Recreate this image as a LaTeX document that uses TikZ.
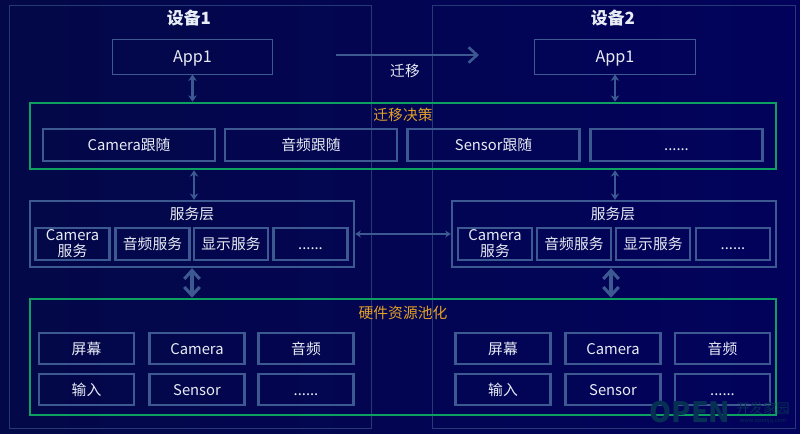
\documentclass[tikz,border=0pt]{standalone}
\usepackage{xcolor}
\usepackage{fontspec}
\setmainfont{Noto Sans CJK SC}
\usetikzlibrary{arrows.meta, positioning}
\definecolor{bgleft}{RGB}{3,8,72}
\definecolor{bgright}{RGB}{2,2,92}
\definecolor{frameblue}{RGB}{38,56,118}
\definecolor{boxblue}{RGB}{60,90,145}
\definecolor{poolgreen}{RGB}{14,160,96}
\definecolor{labelorange}{RGB}{226,160,40}
\definecolor{textwhite}{RGB}{232,236,245}
\definecolor{markteal}{RGB}{6,48,84}

\begin{document}
\begin{tikzpicture}[
        x=0.025cm, y=-0.025cm,
        device/.style={rectangle, draw=frameblue, line width=0.7pt, inner sep=0pt},
        devicetitle/.style={text=textwhite, font=\fontsize{12}{14}\selectfont\bfseries},
        appbox/.style={rectangle, draw=boxblue, line width=0.7pt, minimum width=4cm, minimum height=0.875cm, text=textwhite, text height=1em, text depth=0.2em, font=\fontsize{11.5}{13}\selectfont},
        item/.style={rectangle, draw=boxblue, line width=1.7pt, inner sep=0pt, align=center, text=textwhite, text height=1em, text depth=0.2em, font=\fontsize{10.5}{12.5}\selectfont},
        follow/.style={item, minimum width=4.3cm, minimum height=0.8cm},
        service/.style={item, minimum width=1.85cm, minimum height=0.8cm},
        twoline/.style={service, text height=, text depth=, font=\fontsize{10.5}{11.5}\selectfont},
        hardware/.style={item, minimum width=2.37cm, minimum height=0.78cm},
        layer/.style={rectangle, draw=boxblue, line width=1.7pt, inner sep=0pt},
        pool/.style={rectangle, draw=poolgreen, line width=1.8pt, inner sep=0pt},
        title/.style={text=textwhite, font=\fontsize{10.5}{12.5}\selectfont},
        pooltitle/.style={text=labelorange, font=\fontsize{10.5}{12.5}\selectfont},
        link/.style={{Stealth[length=4.5pt,width=6pt]}-{Stealth[length=4.5pt,width=6pt]}, draw=boxblue, line width=1.6pt},
        hlink/.style={{Stealth[length=4pt,width=5pt]}-{Stealth[length=4pt,width=5pt]}, draw=boxblue, line width=0.9pt},
        biglink/.style={{Straight Barb[length=6pt,width=11pt]}-{Straight Barb[length=6pt,width=11pt]}, draw=boxblue, line width=2.2pt},
        movelink/.style={-{Straight Barb[length=6pt,width=11pt]}, draw=boxblue, line width=1.9pt}
    ]
        % Background
        \shade[left color=bgleft, right color=bgright] (0,0) rectangle (800,433);

        % Devices
        \node[device, minimum width=9.03cm, minimum height=10.55cm] (deviceA) at (190.5,217) {};
        \node[device, minimum width=9.05cm, minimum height=10.55cm] (deviceB) at (614,217) {};
        \node[devicetitle] (titleA) at (189,18) {设备1};
        \node[devicetitle] (titleB) at (613,18) {设备2};

        % Apps
        \node[appbox] (appA) at (192.5,56.5) {App1};
        \node[appbox] (appB) at (615,56.5) {App1};
        \coordinate (moveA) at (336,55);
        \coordinate (moveB) at (479,55);
        \node[title] (move) at (405,71) {迁移};

        % Migration decision
        \node[pool, minimum width=18.65cm, minimum height=1.65cm] (decide) at (403,136) {};
        \node[pooltitle] (decidetitle) at (403,115) {迁移决策};
        \node[follow] (camfollow) at (129,145) {Camera跟随};
        \node[follow] (audiofollow) at (311,145) {音频跟随};
        \node[follow] (sensorfollow) at (493.5,145) {Sensor跟随};
        \node[follow] (morefollow) at (676.5,145) {......};

        % Service layers
        \node[layer, minimum width=8.1cm, minimum height=1.65cm] (layerA) at (192,234) {};
        \node[title] (layertitleA) at (192,214) {服务层};
        \node[twoline] (camA) at (72.5,244) {Camera\\服务};
        \node[service] (audioA) at (152.5,244) {音频服务};
        \node[service] (showA) at (231,244) {显示服务};
        \node[service] (moreA) at (310.5,244) {......};

        \node[layer, minimum width=8.1cm, minimum height=1.65cm] (layerB) at (614,234) {};
        \node[title] (layertitleB) at (613,214) {服务层};
        \node[twoline] (camB) at (495,244) {Camera\\服务};
        \node[service] (audioB) at (574,244) {音频服务};
        \node[service] (showB) at (653,244) {显示服务};
        \node[service] (moreB) at (733,244) {......};

        % Hardware pool
        \node[pool, minimum width=18.65cm, minimum height=2.9cm] (hwpool) at (403,357) {};
        \node[pooltitle] (hwtitle) at (403,313) {硬件资源池化};
        \node[hardware] (screenA) at (86.5,348.5) {屏幕};
        \node[hardware] (cameraA) at (197,348.5) {Camera};
        \node[hardware] (soundA) at (306,348.5) {音频};
        \node[hardware] (inputA) at (86.5,389.5) {输入};
        \node[hardware] (sensorA) at (197,389.5) {Sensor};
        \node[hardware] (otherA) at (306,389.5) {......};
        \node[hardware] (screenB) at (503,348.5) {屏幕};
        \node[hardware] (cameraB) at (613,348.5) {Camera};
        \node[hardware] (soundB) at (722.5,348.5) {音频};
        \node[hardware] (inputB) at (503,389.5) {输入};
        \node[hardware] (sensorB) at (613,389.5) {Sensor};
        \node[hardware] (otherB) at (722.5,389.5) {......};

        % Watermark
        \node[text=markteal, font=\fontsize{20}{22}\selectfont\bfseries, inner sep=0pt] (markopen) at (690,412) {OPEN};
        \node[text=markteal, font=\fontsize{9.5}{10}\selectfont, inner sep=0pt] (markname) at (763,408) {开发家园};
        \node[text=markteal, font=\fontsize{4}{4.5}\selectfont, inner sep=0pt] (markurl) at (763,421) {www.openjq.com};

        % Links
        \draw[movelink] (moveA) -- (moveB);
        \draw[link] (appA.south) -- (decide.north -| appA.south);
        \draw[link] (appB.south) -- (decide.north -| appB.south);
        \draw[link] ([xshift=0.05cm]decide.south -| layerA.north) -- ([xshift=0.05cm]layerA.north);
        \draw[link] (decide.south -| appB.south) -- (layerB.north -| appB.south);
        \draw[hlink] (layerA) -- (layerB);
        \draw[biglink] (layerA.south) -- (hwpool.north -| layerA.south);
        \draw[biglink] ([xshift=-0.075cm]layerB.south) -- ([xshift=-0.075cm]hwpool.north -| layerB.south);
    \end{tikzpicture}
\end{document}
